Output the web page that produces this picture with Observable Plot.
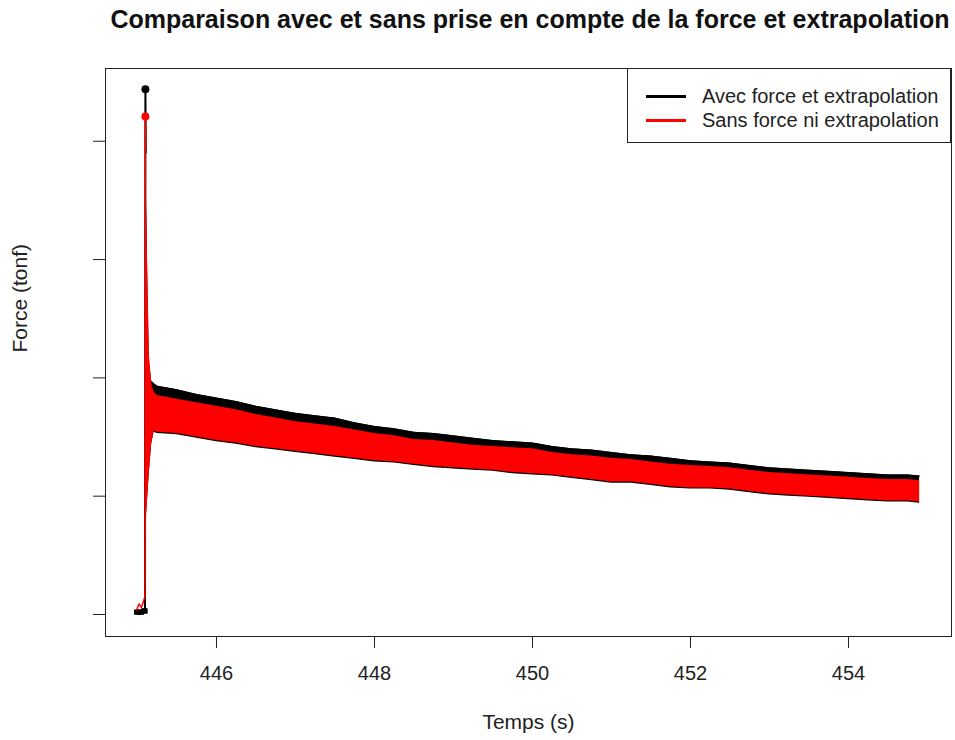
<!DOCTYPE html>
<html>
<head>
<meta charset="utf-8">
<script src="https://cdn.jsdelivr.net/npm/d3@7"></script>
<script src="https://cdn.jsdelivr.net/npm/@observablehq/plot@0.6"></script>
<style>
  body { margin: 0; background: white; font-family: "Liberation Sans", Arial, sans-serif; }
  #wrap { position: relative; width: 955px; height: 740px; }
  #title { height: 40px; box-sizing: border-box; padding: 4px 0 0 105px; text-align: center;
           font-weight: bold; font-size: 25px; color: #111; white-space: nowrap; line-height: 30px; }
  #legend { position: absolute; left: 627px; top: 68px; width: 324px; height: 75px; box-sizing: border-box;
            border: 1px solid #222; background: white; }
  .li { position: absolute; left: 0; height: 20px; }
  .li .sw { position: absolute; left: 18px; width: 40px; height: 3px; }
  .li .lt { position: absolute; left: 74px; font-size: 20px; color: #222; white-space: nowrap; line-height: 24px; top: -12px; }
</style>
</head>
<body>
<div id="wrap">
  <div id="title">Comparaison avec et sans prise en compte de la force et extrapolation</div>
  <div id="chart"></div>
  <div id="legend"></div>
</div>
<script>
// ---- data ----
const seriesNames = ["Avec force et extrapolation", "Sans force ni extrapolation"];
const seriesColors = ["black", "red"];

// pre-impact samples and the impact peak
const impactTimes = [444.99, 445.02, 445.05, 445.08, 445.095, 445.10];
const blackImpact = [0.02, 0.02, 0.02, 0.03, 0.03, 4.44];
const redImpact   = [0.04, 0.09, 0.06, 0.12, 0.15, 4.21];

// oscillating band after impact: envelope (upper / lower) of each series
const bandTimes = [445.105, 445.115, 445.13, 445.15, 445.18, 445.21,
  445.25, 445.5, 445.75, 446, 446.25, 446.5, 446.75, 447, 447.25, 447.5, 447.75, 448,
  448.25, 448.5, 448.75, 449, 449.25, 449.5, 449.75, 450, 450.25, 450.5, 450.75, 451,
  451.25, 451.5, 451.75, 452, 452.25, 452.5, 452.75, 453, 453.25, 453.5, 453.75, 454,
  454.25, 454.5, 454.75, 454.9];
const blackHigh = [3.9, 3.45, 2.85, 2.15, 1.97, 1.95,
  1.93, 1.90, 1.86, 1.83, 1.80, 1.76, 1.73, 1.70, 1.68, 1.66, 1.62, 1.59,
  1.57, 1.54, 1.53, 1.51, 1.49, 1.47, 1.46, 1.45, 1.42, 1.40, 1.39, 1.37,
  1.35, 1.34, 1.32, 1.30, 1.29, 1.28, 1.26, 1.24, 1.23, 1.22, 1.21, 1.20,
  1.19, 1.18, 1.18, 1.17];
const blackLow = [0.3, 0.85, 1.0, 1.2, 1.44, 1.54,
  1.53, 1.52, 1.49, 1.46, 1.44, 1.41, 1.39, 1.37, 1.35, 1.33, 1.31, 1.29,
  1.28, 1.26, 1.24, 1.23, 1.22, 1.21, 1.19, 1.18, 1.17, 1.15, 1.13, 1.11,
  1.11, 1.09, 1.07, 1.06, 1.06, 1.05, 1.03, 1.01, 1.00, 0.99, 0.98, 0.97,
  0.96, 0.95, 0.95, 0.94];
const redHigh = [3.95, 3.5, 2.9, 2.2, 1.95, 1.88,
  1.85, 1.82, 1.79, 1.76, 1.73, 1.69, 1.66, 1.63, 1.61, 1.59, 1.56, 1.53,
  1.51, 1.48, 1.47, 1.45, 1.43, 1.42, 1.41, 1.40, 1.37, 1.35, 1.34, 1.32,
  1.31, 1.29, 1.27, 1.26, 1.25, 1.24, 1.22, 1.20, 1.19, 1.18, 1.17, 1.16,
  1.15, 1.14, 1.14, 1.13];
const redLow = [0.3, 0.85, 1.0, 1.2, 1.45, 1.55,
  1.54, 1.53, 1.50, 1.47, 1.45, 1.42, 1.40, 1.38, 1.36, 1.34, 1.32, 1.30,
  1.29, 1.27, 1.25, 1.24, 1.23, 1.22, 1.20, 1.19, 1.18, 1.16, 1.14, 1.12,
  1.12, 1.10, 1.08, 1.07, 1.07, 1.06, 1.04, 1.02, 1.01, 1.00, 0.99, 0.98,
  0.97, 0.96, 0.96, 0.95];

const xTicks = [446, 448, 450, 452, 454];
const yTicks = [0, 1, 2, 3, 4];
const xLabel = "Temps (s)";
const yLabel = "Force (tonf)";

// ---- tables built from the arrays ----
const band = bandTimes.map((t, i) => ({t, bh: blackHigh[i], bl: blackLow[i], rh: redHigh[i], rl: redLow[i]}));
const bandTail = band.filter(d => d.t >= 445.18);
const blackLine = impactTimes.map((t, i) => ({t, v: blackImpact[i]})).concat([{t: bandTimes[0], v: blackHigh[0]}]);
const redLine = impactTimes.map((t, i) => ({t, v: redImpact[i]})).concat([{t: bandTimes[0], v: redHigh[0]}]);
const preImpact = impactTimes.slice(0, -1).map((t, i) => ({t, v: blackImpact[i]}));
const peaks = [
  {t: impactTimes[impactTimes.length - 1], v: blackImpact[blackImpact.length - 1], c: seriesColors[0]},
  {t: impactTimes[impactTimes.length - 1], v: redImpact[redImpact.length - 1], c: seriesColors[1]}
];

const chart = Plot.plot({
  width: 955,
  height: 700,
  marginTop: 28,
  marginBottom: 104,
  marginLeft: 105,
  marginRight: 4,
  style: {fontFamily: "'Liberation Sans', Arial, sans-serif", color: "#222", background: "white"},
  x: {domain: [444.595, 455.304]},
  y: {domain: [-0.186, 4.615]},
  marks: [
    Plot.areaY(band, {x: "t", y1: "bl", y2: "bh", fill: seriesColors[0]}),
    Plot.lineY(bandTail, {x: "t", y: "bh", stroke: seriesColors[0], strokeWidth: 1}),
    Plot.lineY(blackLine, {x: "t", y: "v", stroke: seriesColors[0], strokeWidth: 2}),
    Plot.dot(preImpact, {x: "t", y: "v", fill: seriesColors[0], symbol: "square", r: 3}),
    Plot.areaY(band, {x: "t", y1: "rl", y2: "rh", fill: seriesColors[1]}),
    Plot.lineY(redLine, {x: "t", y: "v", stroke: seriesColors[1], strokeWidth: 1.5}),
    Plot.dot(peaks, {x: "t", y: "v", fill: "c", r: 4}),
    Plot.frame({stroke: "#222"}),
    Plot.axisX({ticks: xTicks, tickSize: 12, tickPadding: 17, fontSize: 20, label: null}),
    Plot.axisY({ticks: yTicks, tickSize: 12, tickFormat: () => "", label: null}),
    Plot.text([xLabel], {frameAnchor: "bottom", dy: 86, fontSize: 21, lineAnchor: "middle", fill: "#222"}),
    Plot.text([yLabel], {frameAnchor: "left", dx: -85, rotate: -90, fontSize: 21, lineAnchor: "middle", fill: "#222"})
  ]
});
document.getElementById("chart").appendChild(chart);

// legend
const legend = document.getElementById("legend");
seriesNames.forEach((name, i) => {
  const item = document.createElement("div");
  item.className = "li";
  item.style.top = (i === 0 ? 27 : 51) + "px";
  const sw = document.createElement("div");
  sw.className = "sw";
  sw.style.background = seriesColors[i];
  sw.style.top = "-1px";
  const lt = document.createElement("div");
  lt.className = "lt";
  lt.textContent = name;
  item.appendChild(sw);
  item.appendChild(lt);
  legend.appendChild(item);
});
</script>
</body>
</html>
